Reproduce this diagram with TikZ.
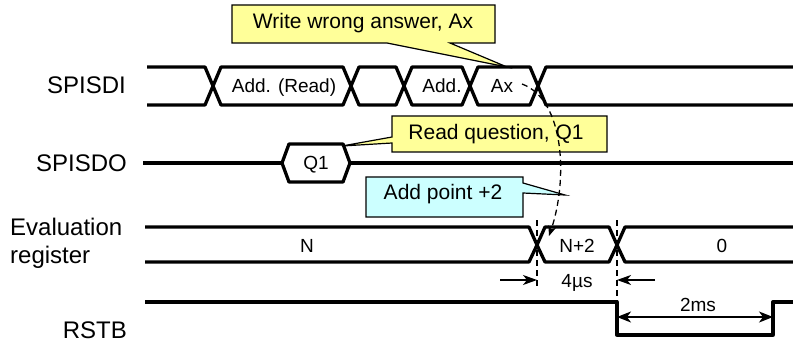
\documentclass[tikz,border=0pt]{standalone}
\usepackage{fontspec}
\setmainfont{Liberation Sans}
\usetikzlibrary{arrows.meta}
\definecolor{noteyellow}{RGB}{255,255,153}
\definecolor{notecyan}{RGB}{204,255,255}
\newcommand\Hs{8}
\tikzset{
  wave/.style={
    line width=3.3pt,
    line join=round
  },
  bustext/.style={
    anchor=base,
    inner sep=0pt,
    font=\fontsize{19}{22}\selectfont
  },
  signame/.style={
    anchor=base east,
    inner sep=0pt,
    font=\fontsize{24}{28}\selectfont
  },
  note/.style={
    draw,
    line width=1.2pt,
    line join=miter
  },
  notetext/.style={
    anchor=base,
    inner sep=0pt,
    font=\fontsize{21}{24}\selectfont
  },
  guide/.style={
    line width=1.3pt,
    dash pattern=on 6pt off 4pt
  },
  dimline/.style={
    line width=1.5pt
  }
}

\begin{document}
\begin{tikzpicture}[x=1pt,y=-1pt]
        \useasboundingbox (0,0) rectangle (793,342);

        % signal names
        \node[signame] (sdilbl) at (126,93.5) {SPISDI};
        \node[signame] (sdolbl) at (127,171.5) {SPISDO};
        \node[signame, anchor=base west] (evallbl) at (10,235) {Evaluation};
        \node[signame, anchor=base west] (reglbl) at (10,263) {register};
        \node[signame] (rstlbl) at (127,338.5) {RSTB};

        % SPISDI
        \draw[wave] (147,67) -- (213-\Hs,67) -- (213,86) -- (213-\Hs,105) -- (147,105);
        \foreach \a/\b in {213/351,351/404,404/470,470/538}
          \draw[wave] (\a,86) -- (\a+\Hs,67) -- (\b-\Hs,67) -- (\b,86) -- (\b-\Hs,105) -- (\a+\Hs,105) -- cycle;
        \draw[wave] (793,67) -- (538+\Hs,67) -- (538,86) -- (538+\Hs,105) -- (793,105);

        \node[bustext] (rdaddr) at (284,93) {Add. (Read)};
        \node[bustext] (wraddr) at (442,93) {Add.};
        \node[bustext] (ansx) at (502,93) {Ax};

        % SPISDO
        \draw[wave] (143,163) -- (282,163);
        \draw[wave] (282,163) -- (289,144) -- (343,144) -- (350,163) -- (343,182) -- (289,182) -- cycle;
        \draw[wave] (350,163) -- (793,163);
        \node[bustext] (qone) at (316,170) {Q1};

        % evaluation register
        \draw[wave] (145,227) -- (537-\Hs,227) -- (537,245) -- (537-\Hs,262) -- (145,262);
        \draw[wave] (537,245) -- (537+\Hs,227) -- (617-\Hs,227) -- (617,245) -- (617-\Hs,262) -- (537+\Hs,262) -- cycle;
        \draw[wave] (793,227) -- (617+\Hs,227) -- (617,245) -- (617+\Hs,262) -- (793,262);
        \node[bustext] (regold) at (307,252) {N};
        \node[bustext] (regnew) at (577,252) {N+2};
        \node[bustext] (regzero) at (722,252) {0};

        % RSTB
        \draw[wave] (145,302) -- (617,302) -- (617,335) -- (773,335) -- (773,302) -- (793,302);

        % timing marks
        \coordinate (evtop) at (537,220);
        \coordinate (evbot) at (537,288);
        \coordinate (rstop) at (617,220);
        \coordinate (rsbot) at (617,302);
        \draw[guide] (evtop) -- (evbot);
        \draw[guide] (rstop) -- (rsbot);

        \coordinate (usl) at (500,280);
        \coordinate (usr) at (655,280);
        \draw[dimline, -{Stealth[length=14pt,width=10pt,inset=4pt]}] (usl) -- (evbot |- usl);
        \draw[dimline, -{Stealth[length=14pt,width=10pt,inset=4pt]}] (usr) -- (rsbot |- usr);
        \node[bustext] (uslbl) at (577,287) {4µs};

        \coordinate (msl) at (617,317);
        \coordinate (msr) at (773,317);
        \draw[dimline, {Stealth[length=14pt,width=11pt,inset=4pt]}-{Stealth[length=14pt,width=11pt,inset=4pt]}] (msl) -- (msr);
        \node[bustext] (mslbl) at (698,311) {2ms};

        % callouts
        \filldraw[note, fill=noteyellow] (232,5) -- (495,5) -- (495,43) -- (450,43) -- (507,67) -- (387,43) -- (232,43) -- cycle;
        \node[notetext] (wrongnote) at (363,29) {Write wrong answer, Ax};

        \filldraw[note, fill=noteyellow] (392,116) -- (607,116) -- (607,152) -- (392,152) -- (392,143) -- (342,146) -- (392,137) -- cycle;
        \node[notetext] (readnote) at (496,140) {Read question, Q1};

        \filldraw[note, fill=notecyan] (366,177) -- (523,177) -- (523,183) -- (565,195) -- (523,193) -- (523,217) -- (366,217) -- cycle;
        \node[notetext] (addnote) at (443,200) {Add point +2};

        % Ax -> N+2
        \coordinate (axpt) at (522,84);
        \coordinate (nppt) at (549,236);
        \draw[guide, -{Stealth[length=10pt,width=8pt,inset=3pt]}] (axpt) .. controls (565,100) and (568,180) .. (nppt);
\end{tikzpicture}
\end{document}
